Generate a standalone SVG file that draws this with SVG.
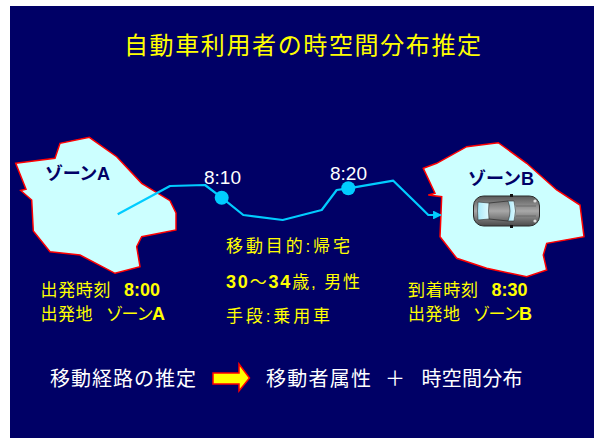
<svg xmlns="http://www.w3.org/2000/svg" width="599" height="438" viewBox="0 0 599 438">
  <style>
    .t { font-family: "Liberation Sans", "Noto Sans CJK JP", sans-serif; }
    .title { font-size: 24px; fill: #FFFF00; }
    .zone { fill: #CCFFFF; stroke: #FF0000; stroke-width: 1.5; stroke-linejoin: miter; }
    .zlabel { font-size: 18px; font-weight: bold; fill: #000066; }
    .time { font-size: 19px; fill: #FFFFFF; }
    .info { font-size: 17px; fill: #FFFF00; }
    .lat { font-size: 18px; font-weight: bold; }
    .foot { font-size: 20px; fill: #FFFFFF; }
    .route { fill: none; stroke: #00CCFF; stroke-width: 2.2; stroke-linejoin: round; }
    .dot { fill: #00CCFF; }
  </style>
  <defs>
    <marker id="arrowhead" viewBox="0 0 10 10" refX="9" refY="5" markerWidth="4" markerHeight="4" orient="auto" markerUnits="strokeWidth">
      <path d="M0,0 L10,5 L0,10 z" fill="#00CCFF"/>
    </marker>
    <linearGradient id="carBody" x1="0" y1="0" x2="0" y2="1">
      <stop offset="0" stop-color="#5a5a5a"/>
      <stop offset="0.5" stop-color="#a8a8a8"/>
      <stop offset="1" stop-color="#4a4a4a"/>
    </linearGradient>
    <linearGradient id="glass" x1="0" y1="0" x2="1" y2="0">
      <stop offset="0" stop-color="#A8E8F8"/>
      <stop offset="1" stop-color="#E0FAFF"/>
    </linearGradient>
  </defs>

  <!-- background panel -->
  <rect x="10" y="6" width="584" height="432" fill="#000066"/>

  <!-- title -->
  <text class="t title" x="124" y="54" textLength="357" lengthAdjust="spacing">自動車利用者の時空間分布推定</text>

  <!-- zone A -->
  <g id="zoneA">
    <polygon class="zone" points="15.7,163.3 55,158.3 60,143.3 89.3,137.3 116.7,156.7 141.7,183.3 170,200.7 176,213 176,230 141.7,236.7 136.7,246.7 140,266.7 115,273.3 80,255 50,251.7 33.3,231 31.7,200 20.7,190.5 26,189.3"/>
    <text class="t zlabel" x="45" y="179.5" textLength="65" lengthAdjust="spacing">ゾーンA</text>
  </g>

  <!-- zone B -->
  <g id="zoneB">
    <polygon class="zone" points="423.3,168.3 436.7,163.3 466.7,146.7 498.3,142.7 526.7,163.3 556.7,190 580,205 584,236.7 546.7,243.3 543.3,255 546.7,270 526.7,276.7 486.7,268.3 456.7,258.3 440,236.7 441.7,196.7 428.3,195 435,193.3"/>
    <text class="t zlabel" x="468" y="184.5" textLength="66" lengthAdjust="spacing">ゾーンB</text>
    <!-- car, top view, facing right -->
    <g id="car">
      <rect x="473.5" y="196" width="66" height="30" rx="10" ry="10" fill="url(#carBody)" stroke="#2a2a2a" stroke-width="1"/>
      <path d="M478,202 Q477,211 478,220 L489,219 Q488,211 489,203 Z" fill="url(#glass)" stroke="#333" stroke-width="0.6"/>
      <path d="M508,201 Q512,211 508,221 L514,221 Q517,211 514,201 Z" fill="url(#glass)" stroke="#333" stroke-width="0.6"/>
      <line x1="489" y1="203" x2="508" y2="201" stroke="#333" stroke-width="0.8"/>
      <line x1="489" y1="219" x2="508" y2="221" stroke="#333" stroke-width="0.8"/>
      <line x1="516" y1="206" x2="536" y2="206" stroke="#555" stroke-width="0.6"/>
      <line x1="516" y1="216" x2="536" y2="216" stroke="#555" stroke-width="0.6"/>
      <rect x="510" y="194" width="3" height="3" fill="#111"/>
      <rect x="510" y="225" width="3" height="3" fill="#111"/>
      <circle cx="535" cy="201" r="1.6" fill="#ddd"/>
      <circle cx="535" cy="221" r="1.6" fill="#ddd"/>
    </g>
  </g>

  <!-- connectors -->
  <g id="connectors">
    <polyline class="route" points="117.7,214.3 170,186 205,185 221.7,197.7 243.3,215 282.7,220 321.7,210 336.7,190 348.3,188.3 393.3,180.7 420,206.7 428.3,215 441,215" marker-end="url(#arrowhead)"/>
  </g>

  <!-- time points on route -->
  <g id="t810">
    <circle class="dot" cx="221.7" cy="197.7" r="7"/>
    <text class="t time" x="204" y="184">8:10</text>
  </g>
  <g id="t820">
    <circle class="dot" cx="348.3" cy="188.3" r="7"/>
    <text class="t time" x="330" y="180">8:20</text>
  </g>

  <!-- trip attributes -->
  <g id="attributes">
    <text class="t info" x="226" y="252" textLength="124" lengthAdjust="spacing">移動目的:帰宅</text>
    <text class="t info" x="226" y="288" textLength="134" lengthAdjust="spacing"><tspan class="lat">30</tspan>～<tspan class="lat">34</tspan>歳, 男性</text>
    <text class="t info" x="226" y="322" textLength="104" lengthAdjust="spacing">手段:乗用車</text>
  </g>

  <!-- departure -->
  <g id="departure">
    <text class="t info" x="40.5" y="296" textLength="70" lengthAdjust="spacing">出発時刻</text>
    <text class="t info lat" x="124" y="296">8:00</text>
    <text class="t info" x="40.5" y="320" textLength="52" lengthAdjust="spacing">出発地</text>
    <text class="t info" x="106" y="320" textLength="59" lengthAdjust="spacing">ゾーン<tspan class="lat">A</tspan></text>
  </g>

  <!-- arrival -->
  <g id="arrival">
    <text class="t info" x="408" y="296" textLength="70" lengthAdjust="spacing">到着時刻</text>
    <text class="t info lat" x="491.5" y="296">8:30</text>
    <text class="t info" x="408" y="320" textLength="52" lengthAdjust="spacing">出発地</text>
    <text class="t info" x="473" y="320" textLength="59" lengthAdjust="spacing">ゾーン<tspan class="lat">B</tspan></text>
  </g>

  <!-- summary line -->
  <g id="summary">
    <text class="t foot" x="50" y="386" textLength="146" lengthAdjust="spacing">移動経路の推定</text>
    <polygon points="213,373 239,373 239,364 249.5,378 239,391 239,384 213,384" fill="#FFFF00" stroke="#FF0000" stroke-width="1.5" stroke-linejoin="miter"/>
    <text class="t foot" x="266" y="386" textLength="105" lengthAdjust="spacing">移動者属性</text>
    <text class="t foot" x="385" y="386">＋</text>
    <text class="t foot" x="421.5" y="386" textLength="101" lengthAdjust="spacing">時空間分布</text>
  </g>
</svg>
